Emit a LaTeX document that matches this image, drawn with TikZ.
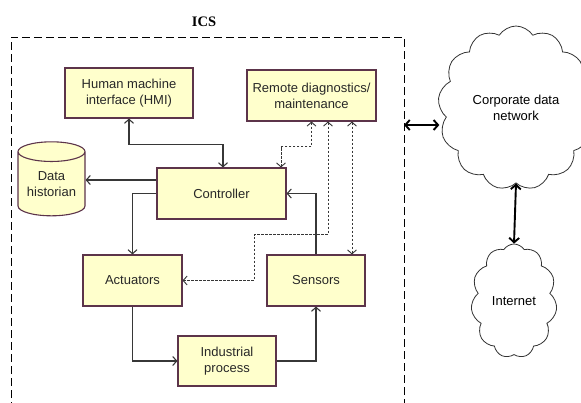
\documentclass[tikz,border=0pt]{standalone}
\usepackage{fontspec}
\setmainfont{Liberation Sans}
\newfontfamily\titlefont{Liberation Serif}
\usetikzlibrary{arrows.meta,shapes.geometric,shapes.symbols}

\definecolor{boxfill}{RGB}{255,255,204}
\definecolor{boxedge}{RGB}{92,52,74}
\definecolor{linkc}{RGB}{55,55,55}
\definecolor{txtc}{RGB}{40,40,40}

\tikzset{
  unit/.style={draw=boxedge, fill=boxfill, line width=1.1pt, inner sep=0pt,
    align=center, text=txtc, font=\fontsize{13}{16}\selectfont},
  link/.style={draw=linkc, line width=1.2pt,
    -{Straight Barb[length=4pt,width=9pt,line width=1.1pt]}},
  duplex/.style={link, {Straight Barb[length=4pt,width=9pt,line width=1.1pt]}-{Straight Barb[length=4pt,width=9pt,line width=1.1pt]}},
  remote/.style={draw=linkc, line width=1pt, dash pattern=on 2.5pt off 1.5pt,
    {Straight Barb[length=4pt,width=9pt,line width=0.9pt]}-{Straight Barb[length=4pt,width=9pt,line width=0.9pt]}},
  heavy/.style={draw=black, line width=1.9pt,
    {Straight Barb[length=4.5pt,width=10pt,line width=1.9pt]}-{Straight Barb[length=4.5pt,width=10pt,line width=1.9pt]}},
  netcloud/.style={cloud, cloud ignores aspect, draw=black!80, line width=0.8pt,
    fill=white, align=center, font=\fontsize{13}{16}\selectfont, text=black},
}

\begin{document}
\begin{tikzpicture}[x=1pt,y=-1pt]
\useasboundingbox (0,0) rectangle (581,402);
\clip (0,0) rectangle (581,402);

% system boundary
\node[font=\titlefont\bfseries\fontsize{14.5}{16}\selectfont] (ics) at (204,22) {ICS};
\draw[line width=1pt, dash pattern=on 8pt off 4pt] (11,410) -- (11,37) -- (404,37) -- (404,410);
\coordinate (icsR) at (404,125);

% components
\node[unit, minimum width=128, minimum height=50] (hmi) at (129,93) {Human machine\\interface (HMI)};
\node[unit, minimum width=129, minimum height=51] (rem) at (311.5,95.5) {Remote diagnostics/\\maintenance};
\node[unit, minimum width=129, minimum height=51] (ctrl) at (221.5,193.5) {Controller};
\node[unit, minimum width=99, minimum height=51] (act) at (132.5,280.5) {Actuators};
\node[unit, minimum width=98, minimum height=51] (sens) at (316,280.5) {Sensors};
\node[unit, minimum width=98, minimum height=50] (ind) at (227,361) {Industrial\\process};
\node[unit, cylinder, shape border rotate=90, aspect=0.4,
      minimum width=67, minimum height=74] (hist) at (51.5,184) {Data\\historian};

% networks
\node[netcloud, cloud puffs=13, cloud puff arc=115, minimum width=156, minimum height=164] (corp) at (516,108) {Corporate data\\network};
\node[netcloud, cloud puffs=11, cloud puff arc=115, minimum width=86, minimum height=114] (inet) at (514,301) {Internet};

% control loop
\draw[duplex] (hmi.south) -- ++(0,26) -| ([xshift=1.5]ctrl.north);
\draw[link] ([yshift=13.5]ctrl.west) -- ([yshift=13.5]ctrl.west -| hist.east);
\draw[link] (ctrl.west) -| (act.north);
\draw[link] (act.south) |- (ind.west);
\draw[link] (ind.east) -| (sens.south);
\draw[link] (sens.north) |- (ctrl.east);

% remote access paths
\draw[remote] (rem.south) -- ++(0,25) -| ([xshift=59.5]ctrl.north);
\draw[remote] ([xshift=16.5]rem.south) -- ++(0,113) -- ++(-74,0) |- (act.east);
\draw[remote] ([xshift=40.5]rem.south) -- ([xshift=40.5]rem.south |- sens.north);

% external links
\draw[heavy] (icsR) -- (icsR -| corp.west);
\draw[heavy] (corp.south) -- (inet.north);
\end{tikzpicture}
\end{document}
